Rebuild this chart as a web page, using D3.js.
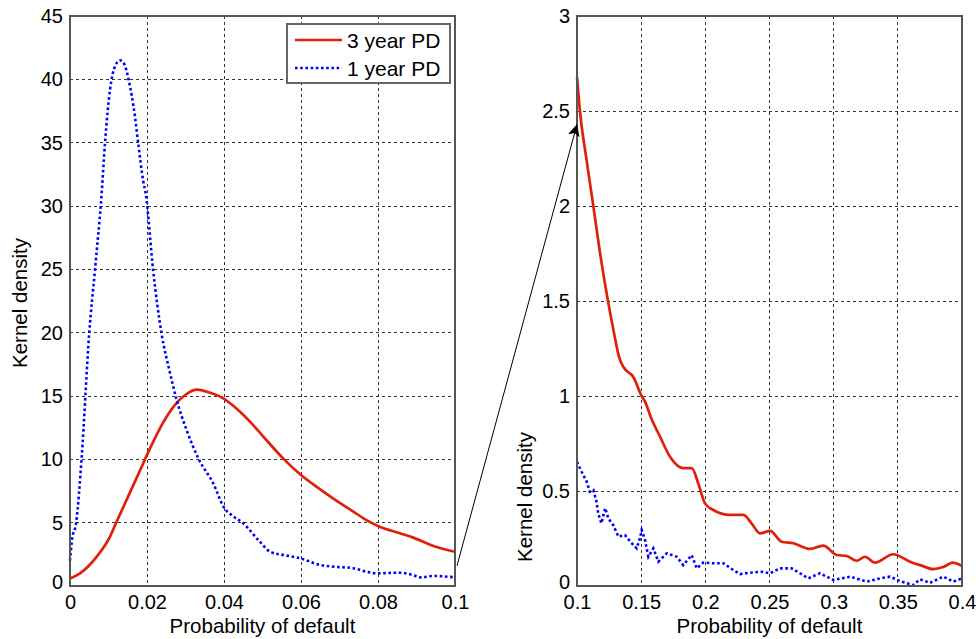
<!DOCTYPE html>
<html>
<head>
<meta charset="utf-8">
<script src="https://cdn.jsdelivr.net/npm/d3@7"></script>
<style>
  html, body { margin: 0; padding: 0; background: #fff; }
  svg { display: block; font-family: "Liberation Sans", Arial, sans-serif; }
</style>
</head>
<body>
<svg id="chart" width="979" height="639"></svg>
<script>
// Kernel density estimates of probability of default (PD)
// Full range 0 – 0.1
const leftPd3x = [0, 0.0026, 0.0069, 0.0104, 0.012, 0.015, 0.018, 0.021, 0.024, 0.027, 0.030, 0.033, 0.036, 0.039, 0.0433, 0.047, 0.0502, 0.0556, 0.060, 0.064, 0.0684, 0.0736, 0.077, 0.080, 0.0857, 0.089, 0.0944, 0.1];
const leftPd3y = [0.6, 1.0, 2.3, 3.9, 5.0, 7.0, 9.0, 11.0, 12.8, 14.2, 15.1, 15.5, 15.3, 14.95, 14.0, 12.9, 11.8, 10.0, 8.76, 7.84, 6.9, 5.87, 5.2, 4.74, 4.16, 3.84, 3.16, 2.7];

const leftPd1x = [0, 0.0005, 0.0016, 0.003, 0.005, 0.0065, 0.0082, 0.0091, 0.0104, 0.0118, 0.013, 0.0141, 0.0152, 0.0169, 0.0177, 0.019, 0.0197, 0.0216, 0.0238, 0.026, 0.0277, 0.0303, 0.0333, 0.0372, 0.040, 0.0424, 0.045, 0.049, 0.052, 0.0554, 0.0597, 0.065, 0.0684, 0.0736, 0.077, 0.0797, 0.0857, 0.089, 0.091, 0.0944, 0.1];
const leftPd1y = [2.0, 3.6, 5.0, 10.0, 20.0, 25.0, 30.9, 35.0, 39.2, 41.1, 41.5, 41.2, 40.0, 37.0, 35.0, 32.0, 30.9, 24.9, 19.9, 16.8, 14.7, 12.3, 10.1, 8.1, 6.2, 5.5, 4.95, 3.6, 2.7, 2.45, 2.2, 1.66, 1.53, 1.4, 1.13, 1.0, 1.05, 0.87, 0.68, 0.79, 0.68];

// Tail 0.1 – 0.4
const rightPd3x = [0.1, 0.1023, 0.1075, 0.1127, 0.118, 0.1231, 0.1283, 0.133, 0.136, 0.1439, 0.1504, 0.153, 0.158, 0.1647, 0.1725, 0.1828, 0.1894, 0.1945, 0.1997, 0.2062, 0.219, 0.2296, 0.236, 0.2426, 0.2504, 0.2595, 0.2686, 0.2816, 0.2919, 0.3024, 0.3102, 0.318, 0.3244, 0.3322, 0.3465, 0.3595, 0.3673, 0.3776, 0.3854, 0.3928, 0.4];
const rightPd3y = [2.68, 2.5, 2.24, 2.0, 1.75, 1.54, 1.35, 1.2, 1.154, 1.10, 1.0, 0.97, 0.88, 0.786, 0.68, 0.62, 0.62, 0.54, 0.435, 0.40, 0.374, 0.374, 0.33, 0.277, 0.29, 0.233, 0.225, 0.195, 0.212, 0.163, 0.158, 0.133, 0.154, 0.123, 0.167, 0.128, 0.11, 0.089, 0.1, 0.123, 0.105];

const rightPd1x = [0.1, 0.1037, 0.1075, 0.110, 0.1127, 0.115, 0.1166, 0.119, 0.122, 0.1244, 0.1283, 0.1322, 0.1374, 0.1426, 0.1465, 0.149, 0.1504, 0.153, 0.1556, 0.1595, 0.1634, 0.170, 0.1777, 0.1828, 0.1894, 0.1933, 0.1984, 0.2062, 0.214, 0.2218, 0.227, 0.2348, 0.2439, 0.2504, 0.2582, 0.2673, 0.2738, 0.2802, 0.2893, 0.2997, 0.3127, 0.3257, 0.3361, 0.3439, 0.3517, 0.362, 0.3673, 0.3751, 0.3854, 0.3932, 0.4];
const rightPd1y = [0.654, 0.60, 0.55, 0.496, 0.505, 0.45, 0.38, 0.33, 0.41, 0.356, 0.32, 0.26, 0.268, 0.225, 0.198, 0.25, 0.295, 0.242, 0.154, 0.198, 0.128, 0.172, 0.154, 0.11, 0.163, 0.093, 0.123, 0.12, 0.12, 0.084, 0.063, 0.07, 0.075, 0.067, 0.093, 0.093, 0.067, 0.04, 0.067, 0.032, 0.049, 0.023, 0.04, 0.049, 0.026, 0.005, 0.035, 0.017, 0.049, 0.023, 0.04];

const leftXTicks = [0, 0.02, 0.04, 0.06, 0.08, 0.1];
const leftXLabels = ["0", "0.02", "0.04", "0.06", "0.08", "0.1"];
const leftYTicks = [0, 5, 10, 15, 20, 25, 30, 35, 40, 45];
const leftYLabels = ["0", "5", "10", "15", "20", "25", "30", "35", "40", "45"];
const rightXTicks = [0.1, 0.15, 0.2, 0.25, 0.3, 0.35, 0.4];
const rightXLabels = ["0.1", "0.15", "0.2", "0.25", "0.3", "0.35", "0.4"];
const rightYTicks = [0, 0.5, 1, 1.5, 2, 2.5, 3];
const rightYLabels = ["0", "0.5", "1", "1.5", "2", "2.5", "3"];

const seriesNames = ["3 year PD", "1 year PD"];
const xTitle = "Probability of default";
const yTitle = "Kernel density";

const RED = "#e0200a";
const BLUE = "#0000ff";

const svg = d3.select("#chart");

const defs = svg.append("defs");
defs.append("marker")
  .attr("id", "arrowhead")
  .attr("viewBox", "0 0 10 10")
  .attr("refX", 10).attr("refY", 5)
  .attr("markerWidth", 12).attr("markerHeight", 12)
  .attr("markerUnits", "userSpaceOnUse")
  .attr("orient", "auto")
  .append("path")
  .attr("d", "M0,0 L10,5 L0,10 L2.5,5 Z")
  .attr("fill", "#000");

function zip(xs, ys) { return xs.map((x, i) => ({ x, y: ys[i] })); }

function panel(cfg) {
  const g = svg.append("g");
  const x = d3.scaleLinear().domain(cfg.xDomain).range([cfg.left, cfg.right]);
  const y = d3.scaleLinear().domain(cfg.yDomain).range([cfg.bottom, cfg.top]);

  // grid
  g.append("g").selectAll("line")
    .data(cfg.xTicks.filter(v => v > cfg.xDomain[0] && v < cfg.xDomain[1]))
    .join("line")
    .attr("x1", d => x(d)).attr("x2", d => x(d))
    .attr("y1", cfg.top).attr("y2", cfg.bottom)
    .attr("stroke", "#333").attr("stroke-width", 1)
    .attr("stroke-dasharray", "3,3")
    .attr("shape-rendering", "crispEdges");
  g.append("g").selectAll("line")
    .data(cfg.yTicks.filter(v => v > cfg.yDomain[0] && v < cfg.yDomain[1]))
    .join("line")
    .attr("x1", cfg.left).attr("x2", cfg.right)
    .attr("y1", d => y(d)).attr("y2", d => y(d))
    .attr("stroke", "#333").attr("stroke-width", 1)
    .attr("stroke-dasharray", "3,3")
    .attr("shape-rendering", "crispEdges");

  // axes
  const xAxis = d3.axisBottom(x).tickValues(cfg.xTicks)
    .tickFormat((d, i) => cfg.xLabels[i]).tickSize(0).tickPadding(9);
  const yAxis = d3.axisLeft(y).tickValues(cfg.yTicks)
    .tickFormat((d, i) => cfg.yLabels[i]).tickSize(0).tickPadding(7);
  const ax = g.append("g").attr("transform", `translate(0,${cfg.bottom})`).call(xAxis);
  const ay = g.append("g").attr("transform", `translate(${cfg.left},0)`).call(yAxis);
  [ax, ay].forEach(a => {
    a.select(".domain").remove();
    a.selectAll("text").attr("font-size", 20).attr("fill", "#000")
      .attr("font-family", "'Liberation Sans', Arial, sans-serif");
  });
  // lift the bottom y label a little so it clears the first x label
  ay.selectAll(".tick").filter(d => d === cfg.yDomain[0])
    .select("text").attr("dy", "0.1em");

  // curves
  g.append("path").datum(zip(cfg.s1x, cfg.s1y))
    .attr("d", d3.line().x(d => x(d.x)).y(d => y(d.y)).curve(d3.curveMonotoneX))
    .attr("fill", "none")
    .attr("stroke", RED).attr("stroke-width", 2.7)
    .attr("stroke-linejoin", "round");
  g.append("path").datum(zip(cfg.s2x, cfg.s2y))
    .attr("d", d3.line().x(d => x(d.x)).y(d => y(d.y)).curve(cfg.curve2))
    .attr("fill", "none")
    .attr("stroke", BLUE).attr("stroke-width", 2.6)
    .attr("stroke-dasharray", "2.6,2.6");

  // frame
  g.append("rect")
    .attr("x", cfg.left).attr("y", cfg.top)
    .attr("width", cfg.right - cfg.left).attr("height", cfg.bottom - cfg.top)
    .attr("fill", "none").attr("stroke", "#555").attr("stroke-width", 1.2)
    .attr("shape-rendering", "crispEdges");

  // titles
  g.append("text")
    .attr("x", (cfg.left + cfg.right) / 2).attr("y", 633)
    .attr("text-anchor", "middle").attr("font-size", 20.5)
    .text(xTitle);
  g.append("text")
    .attr("transform", `translate(${cfg.yTitleX},${cfg.yTitleY}) rotate(-90)`)
    .attr("text-anchor", "middle").attr("font-size", 20.5)
    .text(yTitle);

  return { x, y, g };
}

const L = panel({
  left: 70, right: 455, top: 16, bottom: 586,
  xDomain: [0, 0.1], yDomain: [0, 45],
  xTicks: leftXTicks, xLabels: leftXLabels,
  yTicks: leftYTicks, yLabels: leftYLabels,
  s1x: leftPd3x, s1y: leftPd3y, s2x: leftPd1x, s2y: leftPd1y,
  curve2: d3.curveMonotoneX,
  yTitleX: 27, yTitleY: 303
});

const R = panel({
  left: 577, right: 962, top: 16, bottom: 586,
  xDomain: [0.1, 0.4], yDomain: [0, 3],
  xTicks: rightXTicks, xLabels: rightXLabels,
  yTicks: rightYTicks, yLabels: rightYLabels,
  s1x: rightPd3x, s1y: rightPd3y, s2x: rightPd1x, s2y: rightPd1y,
  curve2: d3.curveLinear,
  yTitleX: 532, yTitleY: 497
});

// arrow linking the end of the full-range view to the tail view
svg.append("line")
  .attr("x1", L.x(0.1) + 2).attr("y1", L.y(1.6))
  .attr("x2", R.x(0.1)).attr("y2", R.y(2.43))
  .attr("stroke", "#000").attr("stroke-width", 1)
  .attr("marker-end", "url(#arrowhead)");

// legend
const lg = svg.append("g");
lg.append("rect").attr("x", 287).attr("y", 24).attr("width", 163).attr("height", 59)
  .attr("fill", "#fff").attr("stroke", "#666").attr("stroke-width", 1.2)
  .attr("shape-rendering", "crispEdges");
[[RED, null, 40], [BLUE, "2.6,2.6", 68]].forEach(([c, dash, yy], i) => {
  const l = lg.append("line").attr("x1", 295).attr("x2", 342)
    .attr("y1", yy).attr("y2", yy).attr("stroke", c)
    .attr("stroke-width", i === 0 ? 2.7 : 2.6);
  if (dash) l.attr("stroke-dasharray", dash);
  lg.append("text").attr("x", 347).attr("y", yy).attr("dy", "0.36em")
    .attr("font-size", 21).text(seriesNames[i]);
});
</script>
</body>
</html>
